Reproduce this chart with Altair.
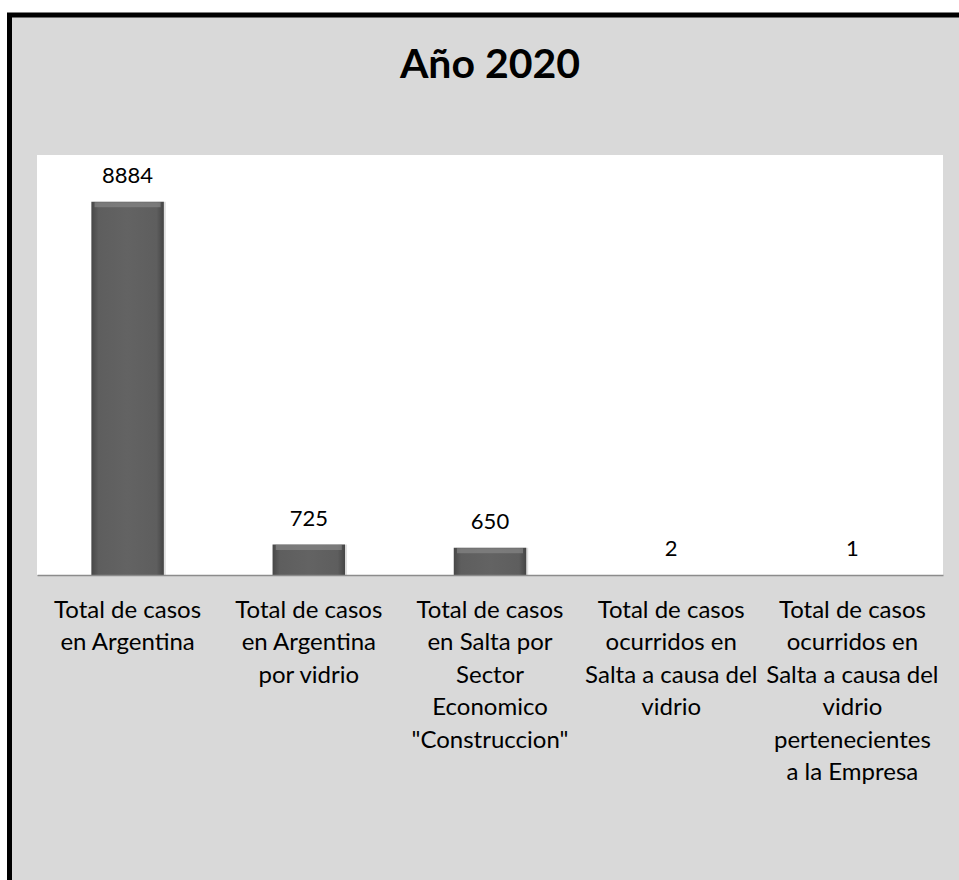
import altair as alt
import pandas as pd

title_text = "Año 2020"
label_lines = [
    ["Total de casos", "en Argentina"],
    ["Total de casos", "en Argentina", "por vidrio"],
    ["Total de casos", "en Salta por", "Sector", "Economico", "\"Construccion\""],
    ["Total de casos", "ocurridos en", "Salta a causa del", "vidrio"],
    ["Total de casos", "ocurridos en", "Salta a causa del", "vidrio", "pertenecientes", "a la Empresa"],
]
values = [8884, 725, 650, 2, 1]

categories = ["|".join(l) for l in label_lines]
df = pd.DataFrame({"cat": categories, "val": values})

W, H = 906, 420
FONT = "Lato"

one = alt.Data(values=[{"k": 1}])
title_data = alt.Data(values=[{"t": title_text}])

frame = alt.Chart(one).mark_rect(
    fill="#d9d9d9", stroke="black", strokeWidth=5, clip=False
).encode(
    x=alt.value(-27.5), x2=alt.value(960), y=alt.value(-140), y2=alt.value(760)
)

plotbg = alt.Chart(one).mark_rect(fill="white").encode(
    x=alt.value(0), x2=alt.value(W), y=alt.value(0), y2=alt.value(H)
)

title = alt.Chart(title_data).mark_text(
    font=FONT, fontSize=41, fontWeight="bold", color="black",
    baseline="alphabetic", align="center",
).encode(
    x=alt.value(W / 2), y=alt.value(-77), text="t:N"
)

xaxis = alt.Axis(
    title=None,
    labelExpr="split(datum.value, '|')",
    labelAngle=0,
    labelAlign="center",
    labelBaseline="top",
    labelFont=FONT,
    labelFontSize=24,
    labelColor="black",
    labelLineHeight=32.5,
    labelPadding=23,
    labelLimit=0,
    labelOverlap=False,
    labelBound=False,
    ticks=False,
    domainColor="#8c8c8c",
    domainWidth=1.5,
    zindex=1,
)
xenc = alt.X(
    "cat:N",
    sort=categories,
    scale=alt.Scale(paddingInner=0.6, paddingOuter=0.3),
    axis=xaxis,
)
yenc = alt.Y("val:Q", scale=alt.Scale(domain=[0, 10000]), axis=None)

grad = alt.Gradient(
    gradient="linear",
    x1=0, x2=1, y1=0, y2=0,
    stops=[
        alt.GradientStop(color="#474747", offset=0),
        alt.GradientStop(color="#5e5e5e", offset=0.1),
        alt.GradientStop(color="#636363", offset=0.5),
        alt.GradientStop(color="#5e5e5e", offset=0.9),
        alt.GradientStop(color="#444444", offset=1),
    ],
)

shadow = alt.Chart(df).mark_bar(color="#000000", opacity=0.12, xOffset=2).encode(
    x=xenc, y=yenc
)

bars = alt.Chart(df).mark_bar(color=grad).encode(x=xenc, y=yenc)

bevel = alt.Chart(df).transform_filter("datum.val > 100").mark_tick(
    color="#868686", thickness=5, size=66, yOffset=3
).encode(x=xenc, y=yenc)

labels = alt.Chart(df).mark_text(
    font=FONT, fontSize=22, color="black", baseline="alphabetic", dy=-19
).encode(
    x=xenc,
    y=yenc,
    text=alt.Text("val:Q", format="d"),
)

chart = alt.layer(frame, plotbg, title, shadow, bars, bevel, labels).properties(
    width=W,
    height=H,
    autosize=alt.AutoSizeParams(type="none"),
    padding={"left": 37, "top": 155, "right": 16, "bottom": 305},
    background="white",
).configure_view(stroke=None)

chart.save("out.html", embed_options={"renderer": "svg", "actions": False})
